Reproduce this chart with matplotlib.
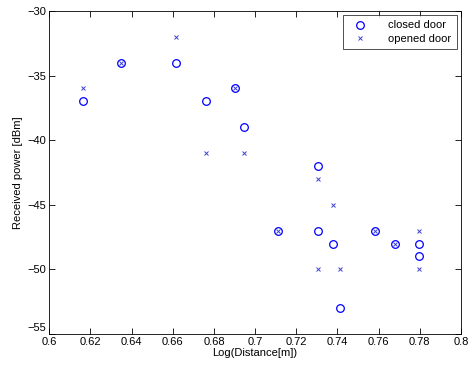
import matplotlib
matplotlib.use("Agg")
import matplotlib.pyplot as plt
import matplotlib.transforms as mtransforms
import numpy as np

# Data
log_dist_closed = [0.6165, 0.6347, 0.6615, 0.6763, 0.690, 0.6947, 0.7113,
                   0.7304, 0.7304, 0.738, 0.7411, 0.7581, 0.768, 0.7797, 0.7797]
power_closed = [-37, -34, -34, -37, -36, -39, -47,
                -42, -47, -48, -53, -47, -48, -48, -49]

log_dist_opened = [0.6165, 0.6347, 0.6615, 0.6763, 0.690, 0.6947, 0.7113,
                   0.7304, 0.7304, 0.738, 0.7411, 0.7581, 0.768, 0.7797, 0.7797]
power_opened = [-36, -34, -32, -41, -36, -41, -47,
                -43, -50, -45, -50, -47, -48, -47, -50]

xticks = np.arange(0.6, 0.8001, 0.02)
yticks = np.arange(-55, -29, 5)

plt.rcParams['font.family'] = ['Liberation Sans', 'DejaVu Sans']
plt.rcParams['font.size'] = 8

fig = plt.figure(figsize=(4.69, 3.73), dpi=100)
ax = fig.add_axes([0.105, 0.1046, 0.878, 0.866])

ax.plot(log_dist_closed, power_closed, linestyle='none', marker='o',
        markersize=5.5, markerfacecolor='none', markeredgecolor='#0000ff',
        markeredgewidth=0.9, label='closed door')
ax.plot(log_dist_opened, power_opened, linestyle='none', marker='x',
        markersize=3.5, color='#4040d0', markeredgewidth=0.7,
        label='opened door')

ax.set_xlim(0.6, 0.8)
ax.set_ylim(-55, -30)
ax.set_xticks(xticks)
ax.set_xticklabels([f"{v:g}" for v in np.round(xticks, 2)])
ax.set_yticks(yticks)
ax.tick_params(direction='in', top=True, right=True, length=4, width=0.6,
               pad=2, labelsize=8)
for s in ax.spines.values():
    s.set_linewidth(0.6)

# nudge the lowest y label up a little, as MATLAB does, so it clears "0.6"
lab = ax.get_yticklabels()[0]
lab.set_transform(lab.get_transform() +
                  mtransforms.ScaledTranslation(0, 5 / 72, fig.dpi_scale_trans))

ax.set_xlabel('Log(Distance[m])', fontsize=8, labelpad=1)
ax.set_ylabel('Received power [dBm]', fontsize=8, labelpad=3)

leg = ax.legend(loc='upper right', fontsize=8, frameon=True, fancybox=False,
                edgecolor='black', borderpad=0.45, handlelength=2.0,
                handletextpad=1.6, labelspacing=0.3, borderaxespad=0.4,
                numpoints=1)
leg.get_frame().set_linewidth(0.6)

fig.savefig('out.png', dpi=100)
